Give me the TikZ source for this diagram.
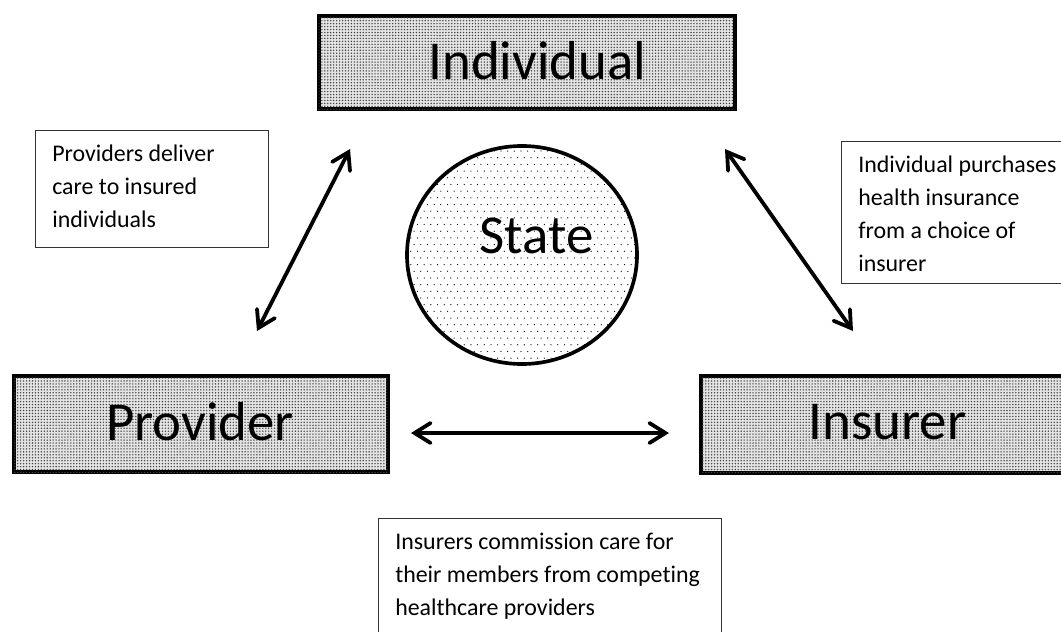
\documentclass[tikz,border=0pt]{standalone}
\usepackage{fontspec}
\setmainfont{Carlito}[Ligatures=NoCommon]
\usetikzlibrary{arrows.meta,patterns,shapes.geometric}
\pgfdeclarepatternformonly{densedots}{\pgfpoint{-0.6pt}{-0.6pt}}{\pgfpoint{0.6pt}{0.6pt}}{\pgfpoint{2.1pt}{2.1pt}}{%
  \pgfpathcircle{\pgfpointorigin}{0.55pt}\pgfusepath{fill}}
\pgfdeclarepatternformonly{sparsedots}{\pgfpoint{-0.6pt}{-0.6pt}}{\pgfpoint{3pt}{5.4pt}}{\pgfpoint{4.75pt}{9.5pt}}{%
  \pgfpathcircle{\pgfpointorigin}{0.45pt}%
  \pgfpathcircle{\pgfpoint{2.375pt}{4.75pt}}{0.45pt}\pgfusepath{fill}}
\tikzset{
  bigbox/.style={draw=black, line width=2.8pt, fill=gray!22,
    postaction={pattern=densedots, pattern color=black!75}, inner sep=0pt},
  bigtext/.style={anchor=base, inner sep=0pt, font=\fontsize{39}{44}\selectfont},
  notebox/.style={draw=black!80, line width=0.9pt, fill=white, inner sep=0pt, anchor=north west},
  notetext/.style={anchor=base west, align=left, inner sep=0pt,
    font=\fontsize{17}{23.4}\selectfont},
  dbl/.style={line width=2.7pt, {Straight Barb[length=4mm,width=5mm,line cap=round]}-{Straight Barb[length=4mm,width=5mm,line cap=round]}}
}
\begin{document}
\begin{tikzpicture}[x=0.025cm,y=-0.025cm]
\useasboundingbox (0,0) rectangle (1061,632);
\clip (0,0) rectangle (1061,632);
% main boxes
\node[bigbox, minimum width=10.4cm, minimum height=2.325cm] (ind) at (527,62.5) {};
\node[bigtext] (indt) at (537.5,79) {Individual};
\node[bigbox, minimum width=9.35cm, minimum height=2.4cm] (prov) at (201,424) {};
\node[bigtext] (provt) at (200,440) {Provider};
\node[bigbox, minimum width=9.2cm, minimum height=2.425cm] (ins) at (885,424.5) {};
\node[bigtext] (inst) at (887.5,439.5) {Insurer};
% state
\node[draw=black, line width=2.6pt, ellipse, fill=white,
  postaction={pattern=sparsedots, pattern color=black},
  minimum width=5.75cm, minimum height=5.45cm, inner sep=0pt] (state) at (522,255) {};
\node[bigtext] (statet) at (536.5,253) {State};
% note boxes
\node[notebox, minimum width=5.825cm, minimum height=2.925cm] (n1) at (35,130) {};
\node[notetext] (t1) at (52,227) {Providers deliver\\care to insured\\individuals};
\node[notebox, minimum width=6cm, minimum height=3.55cm] (n2) at (841,141) {};
\node[notetext] (t2) at (858,271) {Individual purchases\\health insurance\\from a choice of\\insurer};
\node[notebox, minimum width=8.575cm, minimum height=3.5cm] (n3) at (378,518) {};
\node[notetext] (t3) at (395,615) {Insurers commission care for\\their members from competing\\healthcare providers};
% arrows
\coordinate (a1) at (350,149);
\coordinate (a2) at (257,331);
\coordinate (b1) at (725,149);
\coordinate (b2) at (853,331);
\coordinate (c1) at (411,433);
\coordinate (c2) at (669,433);
\draw[dbl] (a1) -- (a2);
\draw[dbl] (b1) -- (b2);
\draw[dbl] (c1) -- (c2);
\end{tikzpicture}
\end{document}
